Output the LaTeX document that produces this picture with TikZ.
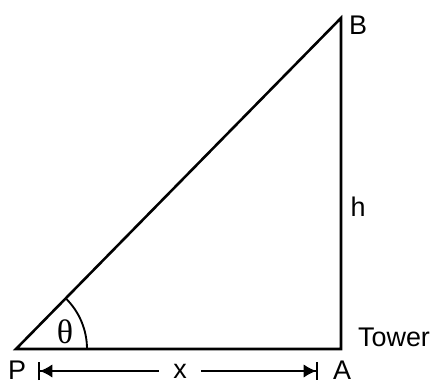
\documentclass[tikz,border=0pt]{standalone}
\usepackage{fontspec}
\setmainfont{Liberation Sans}
\newfontfamily\greekfont{Liberation Serif}
\usepackage{tikz}
\usetikzlibrary{calc, arrows.meta, positioning}

\tikzset{
  side/.style={line width=2.2pt, line join=miter},
  lab/.style={font=\fontsize{23}{27}\selectfont, inner sep=0pt},
  dim/.style={line width=1.4pt}
}

\begin{document}
\begin{tikzpicture}[x=0.03cm, y=0.03cm]
  \useasboundingbox (0,0) rectangle (433,385);
  \coordinate (P) at (16,36);
  \coordinate (A) at (341,36);
  \coordinate (B) at (341,367);
  \draw[side] (P) -- (A) -- (B) -- cycle;
  \draw[line width=1.6pt] ($(P)+(71,0)$) arc[start angle=0, end angle=45.6, radius=71];
  \node[lab] (theta) at (65,53) {\greekfont\fontsize{29}{32}\selectfont θ};
  \node[lab] (Plab) at (17,15) {P};
  \node[lab] (Alab) at (342,15) {A};
  \node[lab] (Blab) at (358,360) {B};
  \node[lab] (hlab) at (358,178) {h};
  \node[lab] (tower) at (394,48) {Tower};
  \coordinate (xl) at (38,14);
  \coordinate (xr) at (318,14);
  \node[lab, inner xsep=0.42cm] (xlen) at (180,14) {x};
  \draw[dim, {Bar[width=0.55cm]Latex[length=0.38cm,width=0.4cm]}-] (xl) -- (xlen.west);
  \draw[dim, -{Latex[length=0.38cm,width=0.4cm]Bar[width=0.55cm]}] (xlen.east) -- (xr);
\end{tikzpicture}
\end{document}
